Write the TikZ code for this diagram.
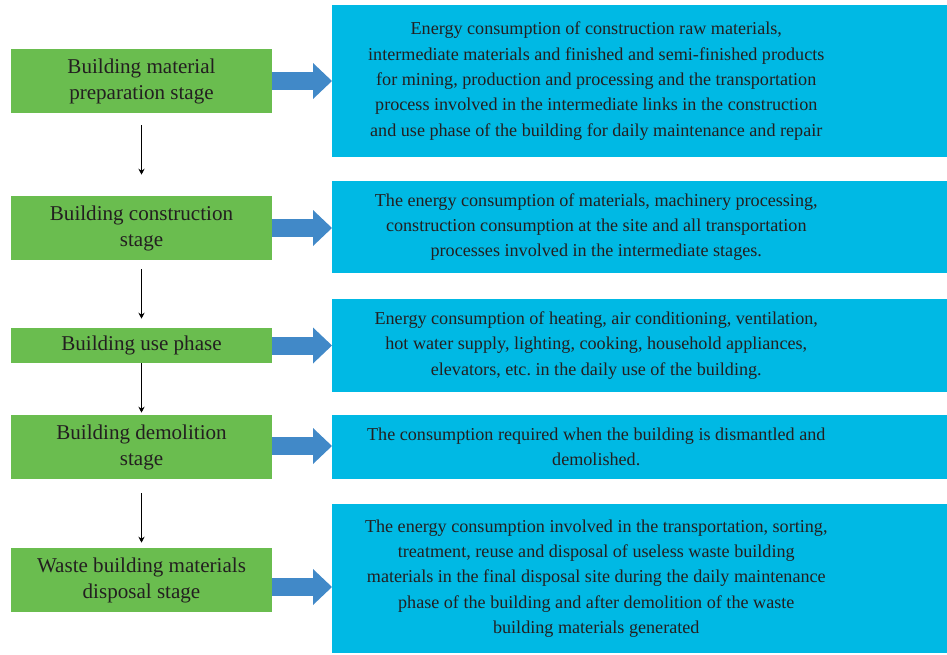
\documentclass[tikz,border=0pt]{standalone}
\usepackage{fontspec}
\setmainfont{Liberation Serif}
\frenchspacing
\usetikzlibrary{positioning,arrows.meta}
\definecolor{stagegreen}{RGB}{106,189,79}
\definecolor{infoblue}{RGB}{0,185,228}
\definecolor{arrowblue}{RGB}{65,137,200}
\definecolor{inktext}{RGB}{35,31,32}

\begin{document}
\begin{tikzpicture}[x=0.75pt,y=-0.75pt,
  stage/.style={fill=stagegreen,text=inktext,align=center,inner sep=0pt,
    minimum width=195.75pt,font=\fontsize{15.8}{19.5}\selectfont},
  info/.style={fill=infoblue,text=inktext,align=flush center,inner sep=0pt,anchor=west,
    text width=396pt,font=\fontsize{13.6}{19}\selectfont},
  push/.style={draw=arrowblue,line width=13.5pt,
    -{Triangle[length=14.25pt,width=27pt,line width=0pt]}},
  down/.style={draw=black,line width=0.9pt,-{Stealth[length=4.5pt,width=4.5pt]}}]
\useasboundingbox (0,0) rectangle (947,654);

% stages
\node[stage,minimum height=48pt] (g1) at (141.5,81) {Building material\\preparation stage};
\node[stage,minimum height=48pt] (g2) at (141.5,228) {Building construction\\stage};
\node[stage,minimum height=26.25pt] (g3) at (141.5,345.5) {Building use phase};
\node[stage,minimum height=48pt] (g4) at (141.5,447) {Building demolition\\stage};
\node[stage,minimum height=48pt] (g5) at (141.5,580) {Waste building materials\\disposal stage};

% what each stage consumes
\node[info,minimum height=114pt] (b1) at (332,81) {Energy consumption of construction raw materials,\\
  intermediate materials and finished and semi-finished products\\
  for mining, production and processing and the transportation\\
  process involved in the intermediate links in the construction\\
  and use phase of the building for daily maintenance and repair};
\node[info,minimum height=69pt] (b2) at (332,227) {The energy consumption of materials, machinery processing,\\
  construction consumption at the site and all transportation\\
  processes involved in the intermediate stages.};
\node[info,minimum height=69.75pt] (b3) at (332,345.5) {Energy consumption of heating, air conditioning, ventilation,\\
  hot water supply, lighting, cooking, household appliances,\\
  elevators, etc. in the daily use of the building.};
\node[info,minimum height=48pt] (b4) at (332,447) {The consumption required when the building is dismantled and\\
  demolished.};
\node[info,minimum height=111.75pt] (b5) at (332,578.5) {The energy consumption involved in the transportation, sorting,\\
  treatment, reuse and disposal of useless waste building\\
  materials in the final disposal site during the daily maintenance\\
  phase of the building and after demolition of the waste\\
  building materials generated};

% blue panels run on to the right edge
\foreach \b in {b1,b2,b3,b4,b5}
  \fill[infoblue] ([xshift=-0.5pt]\b.north east) rectangle ([xshift=66pt]\b.south east);

% block arrows
\draw[push] (g1.east) -- (g1.east -| b1.west);
\draw[push] (g2.east) -- (g2.east -| b2.west);
\draw[push] (g3.east) -- (g3.east -| b3.west);
\draw[push] ([yshift=0.75pt]g4.east) -- ([yshift=0.75pt]g4.east -| b4.west);
\draw[push] ([yshift=-5.25pt]g5.east) -- ([yshift=-5.25pt]g5.east -| b5.west);

% stage order
\draw[down,shorten <=9pt,shorten >=15.75pt] (g1) -- (g2);
\draw[down,shorten <=6.75pt,shorten >=6.75pt] (g2) -- (g3);
\draw[down,shorten >=1.5pt] (g3) -- (g4);
\draw[down,shorten <=10.5pt,shorten >=3.75pt] (g4) -- (g5);
\end{tikzpicture}
\end{document}
